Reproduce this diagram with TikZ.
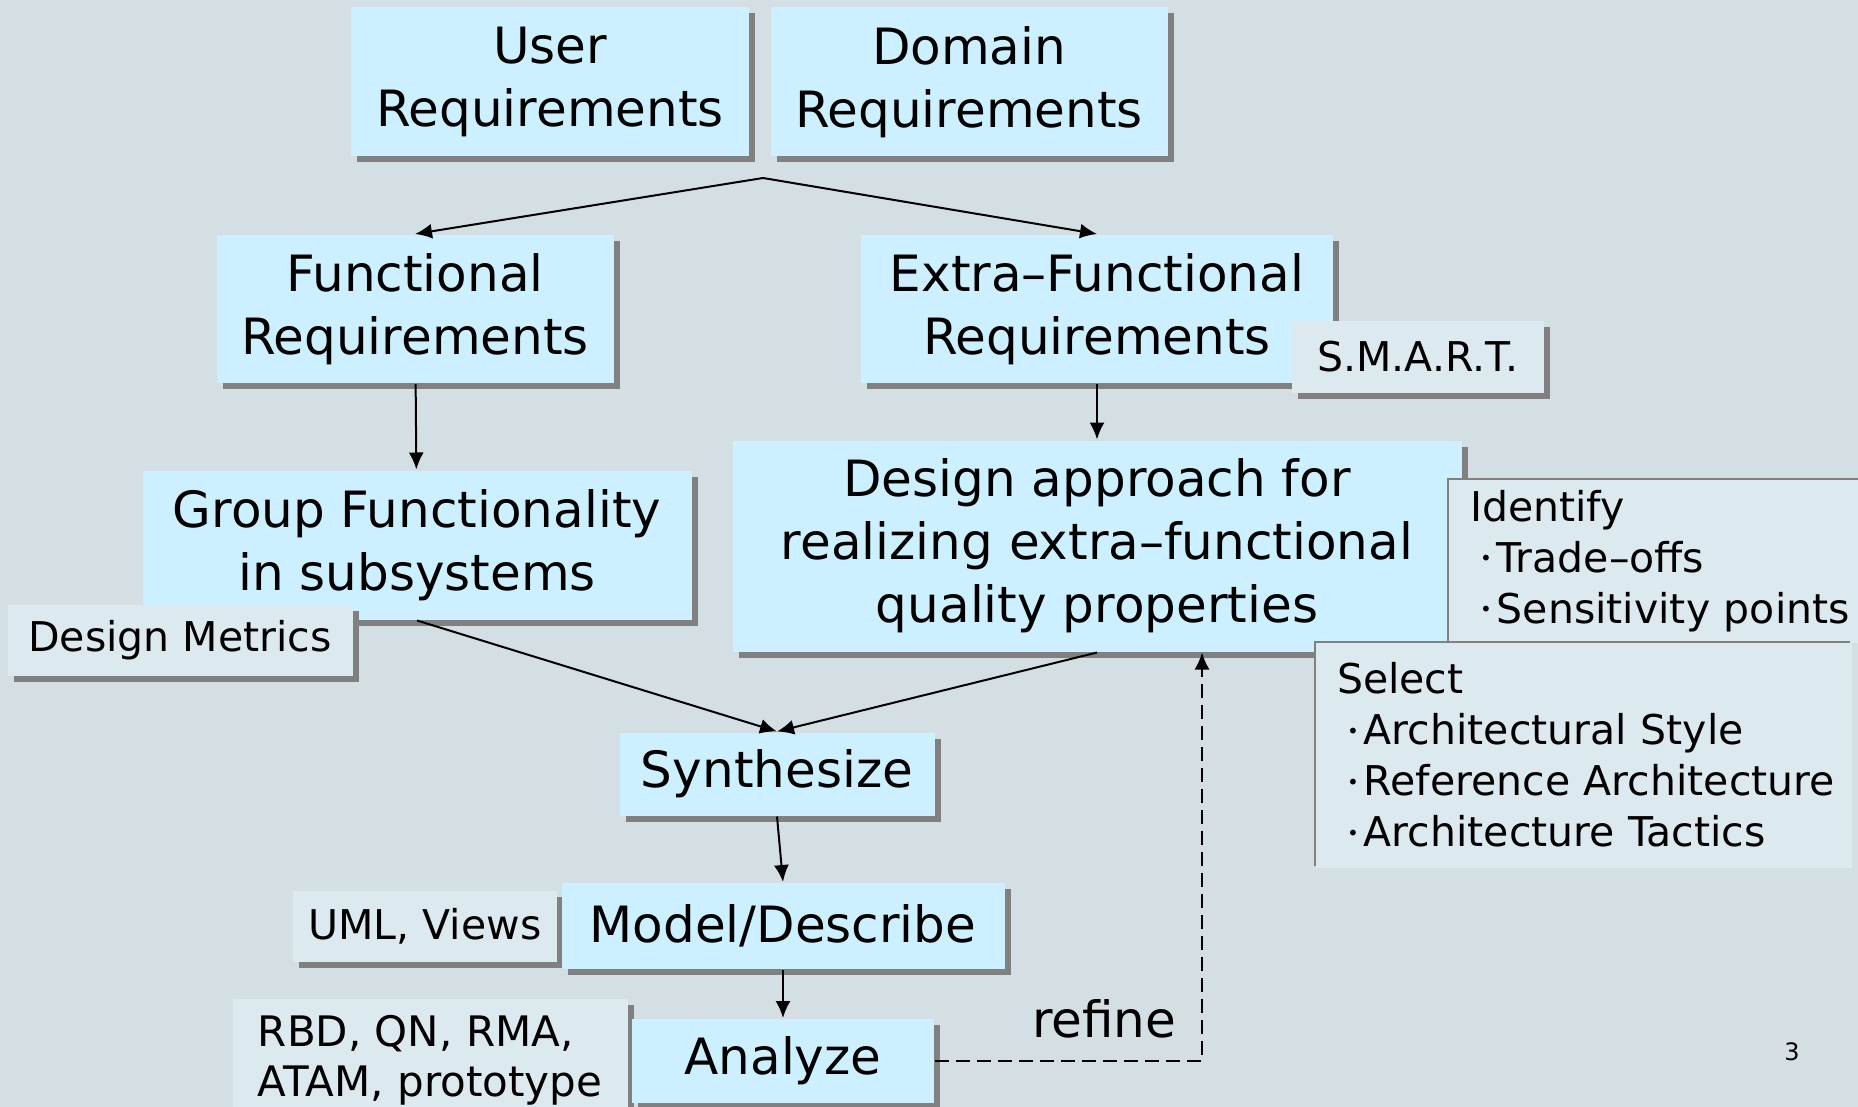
\documentclass[tikz,border=0pt]{standalone}
\usepackage{fontspec}
\setmainfont{DejaVu Sans}
\usetikzlibrary{arrows.meta,shadows,positioning}
\definecolor{slide}{RGB}{212,223,228}
\definecolor{boxblue}{RGB}{204,240,255}
\definecolor{noteblue}{RGB}{220,234,240}
\definecolor{shade}{RGB}{128,128,128}

% one line of an option list, small bullet in front
\newcommand{\itm}[1]{\mbox{\hspace*{5pt}\raisebox{.3ex}{\fontsize{10pt}{10pt}\selectfont\textbullet}\hspace{2.5pt}#1}}

\begin{document}
\begin{tikzpicture}[on grid, >={Latex[length=8.5pt,width=7.5pt]}, line width=1pt,
    stepbox/.style 2 args={fill=boxblue, inner sep=0pt, minimum width=#1, minimum height=#2, align=center,
        font=\fontsize{25pt}{31.5pt}\selectfont,
        general shadow={fill=shade, shadow xshift=3pt, shadow yshift=-3pt}},
    notebox/.style 2 args={fill=noteblue, inner sep=0pt, minimum width=#1, minimum height=#2, align=center,
        font=\fontsize{20.5pt}{25pt}\selectfont,
        general shadow={fill=shade, shadow xshift=3pt, shadow yshift=-3pt}},
    listbox/.style 2 args={fill=noteblue, inner xsep=10.5pt, inner ysep=0pt, text width=#1-21pt, minimum height=#2, align=left,
        font=\fontsize{20.5pt}{25.5pt}\selectfont,
        general shadow={fill=shade, shadow xshift=-1pt, shadow yshift=1pt}},
    refine/.style={->, dash pattern=on 7pt off 3.5pt}]
    % slide
    \useasboundingbox (0,0) rectangle (929pt,-553.5pt);
    \fill[slide] (0,0) rectangle (929pt,-553.5pt);

    % requirements
    \node[stepbox={199pt}{74.5pt}]    (usr) at (275pt,-41pt)                   {User\\Requirements};
    \node[stepbox={198.5pt}{74.5pt}]  (dom) [right=209.5pt of usr]             {Domain\\Requirements};
    \node[stepbox={198.5pt}{74pt}]    (fun) [below left=113.5pt and 67.5pt of usr] {Functional\\Requirements};
    \node[stepbox={236pt}{74pt}]      (xfn) [below right=113.5pt and 64pt of dom]  {Extra--Functional\\Requirements};
    \node[notebox={126pt}{35.5pt}]    (smart) [below right=24pt and 160.5pt of xfn] {S.M.A.R.T.};
    \path (usr) ++(106.5pt,-48pt) coordinate (split);

    % design
    \node[stepbox={274.5pt}{74.5pt}]  (grp) [below right=118pt and 1pt of fun] {Group Functionality\\in subsystems};
    \node[stepbox={364.5pt}{105.5pt}] (dsg) [below=118.5pt of xfn]            {Design approach for\\realizing extra--functional\\quality properties};
    \node[notebox={172.5pt}{35.5pt}]  (met) [below left=47.5pt and 118.5pt of grp] {Design Metrics};
    \node[listbox={212pt}{81.5pt}]    (idf) [below right=7.5pt and 282pt of dsg]
        {Identify\\\itm{Trade--offs}\\\itm{Sensitivity points}};
    \node[listbox={268pt}{112.5pt}]   (sel) [below right=104.5pt and 243.5pt of dsg]
        {Select\\\itm{Architectural Style}\\\itm{Reference Architecture}\\\itm{Architecture Tactics}};

    % synthesis loop
    \node[stepbox={157.5pt}{41.5pt}]  (syn) [below right=114.5pt and 180pt of grp] {Synthesize};
    \node[notebox={132pt}{35.5pt}]    (uml) [below left=76pt and 176pt of syn]  {UML, Views};
    \node[stepbox={221.5pt}{43pt}]    (mdl) [below right=76pt and 3pt of syn]   {Model/Describe};
    \node[notebox={197.5pt}{62pt}, font=\fontsize{21pt}{25pt}\selectfont] (rbd) [below left=143.5pt and 173.5pt of syn]
        {\begin{tabular}{@{}l@{}}RBD, QN, RMA,\\ATAM, prototype\end{tabular}};
    \node[stepbox={151pt}{42pt}]      (ana) [below=67.5pt of mdl]               {Analyze};
    \path (dsg.south) ++(52.5pt,0) coordinate (back);

    \node[font=\fontsize{12pt}{14pt}\selectfont] (pgno) at (896pt,-526pt) {3};

    \path[->] (split) edge (fun.north)
              (split) edge (xfn.north)
              (fun) edge (grp)
              (xfn.south) edge (dsg.north)
              (grp.south) edge (syn.north)
              (dsg.south) edge (syn.north)
              (syn.south) edge (mdl.north)
              (mdl) edge (ana);
    \draw[refine] (ana.east) -- (ana.east -| back)
        node[anchor=base east, xshift=-9pt, yshift=12pt, font=\fontsize{25pt}{30pt}\selectfont] {refine}
        -- (back);
\end{tikzpicture}
\end{document}
